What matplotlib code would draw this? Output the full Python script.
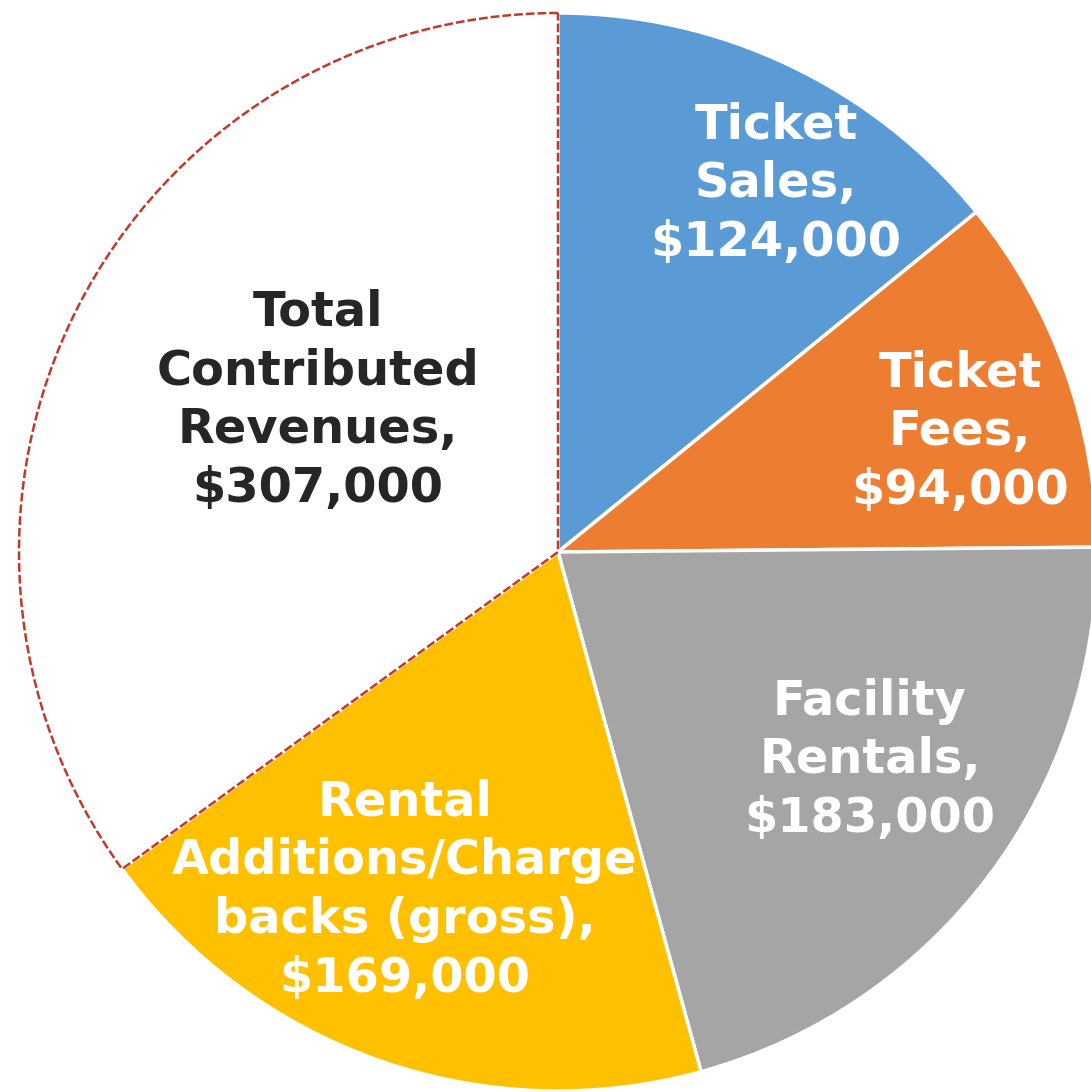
import matplotlib.pyplot as plt

labels = ['Ticket\nSales,\n$124,000', 'Ticket\nFees,\n$94,000', 'Facility\nRentals,\n$183,000',
          'Rental\nAdditions/Charge\nbacks (gross),\n$169,000', 'Total\nContributed\nRevenues,\n$307,000']
values = [124000, 94000, 183000, 169000, 307000]
colors = ['#5B9BD5', '#ED7D31', '#A5A5A5', '#FFC000', '#FFFFFF']
text_colors = ['white', 'white', 'white', 'white', '#262626']
# label centres in pixel coords (x, y from top)
label_pos = [(776, 184), (960, 432), (870, 760), (405, 890), (318, 400)]

W, H = 1091, 1092
cx, cy, r = 558, 552, 539

fig = plt.figure(figsize=(W / 100, H / 100), dpi=100)
ax = fig.add_axes([0, 0, 1, 1])

wedges, _ = ax.pie(values, colors=colors, startangle=90, counterclock=False,
                   center=(cx, H - cy), radius=r, frame=True,
                   wedgeprops=dict(edgecolor='white', linewidth=2.5))
ax.set_xlim(0, W)
ax.set_ylim(0, H)
ax.set_aspect('equal')
ax.axis('off')

total = wedges[-1]
total.set_edgecolor('#C0392B')
total.set_linewidth(1.8)
total.set_linestyle((0, (3.5, 1.2)))
total.set_zorder(3)

for lab, (x, y), c in zip(labels, label_pos, text_colors):
    ax.text(x, H - y, lab, ha='center', va='center', color=c, fontsize=34.5,
            fontweight='bold', family='DejaVu Sans', linespacing=1.32, zorder=5)

fig.savefig('out.png', dpi=100)
